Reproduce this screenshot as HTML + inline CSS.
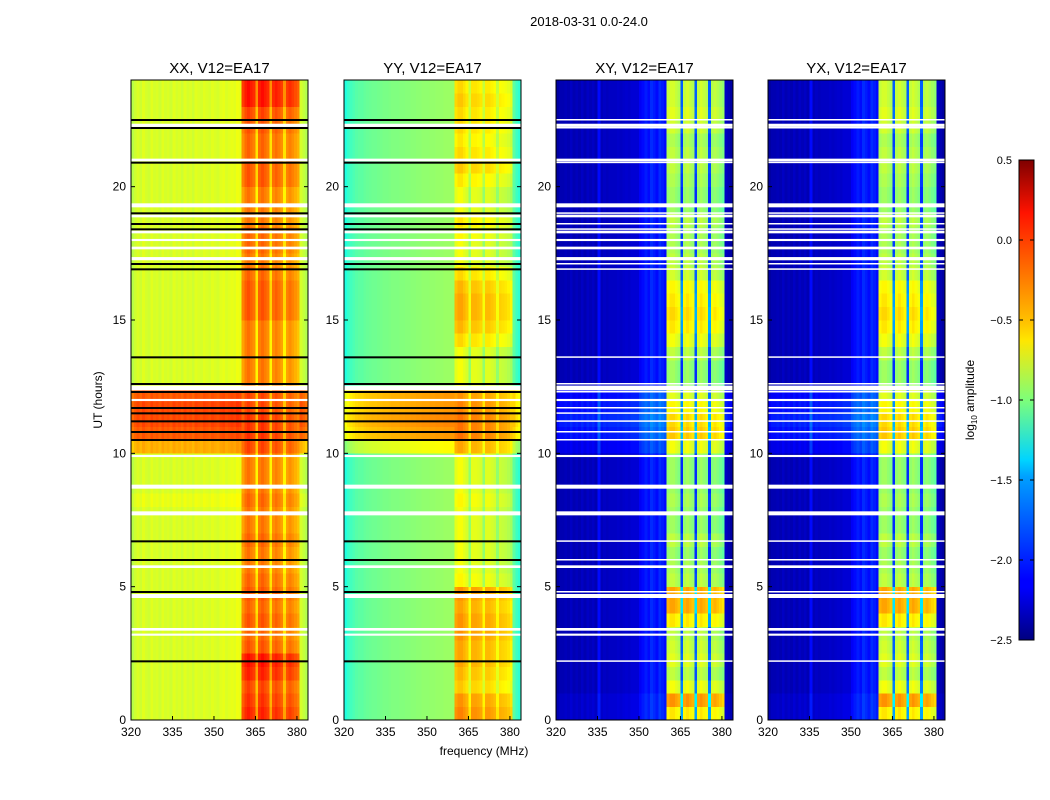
<!DOCTYPE html>
<html><head><meta charset="utf-8"><style>
body{margin:0;background:#fff;font-family:"Liberation Sans",sans-serif;}
#wrap{position:relative;width:1050px;height:800px;background:#fff;overflow:hidden}
</style></head><body>
<div id="wrap">
<svg id="fig" width="1050" height="800" xmlns="http://www.w3.org/2000/svg">
<defs><linearGradient id="jet" x1="0" y1="1" x2="0" y2="0">
<stop offset="0" stop-color="#00007f"/><stop offset="0.11" stop-color="#0000ff"/><stop offset="0.125" stop-color="#0000ff"/><stop offset="0.34" stop-color="#00a0ff"/><stop offset="0.375" stop-color="#00d4ff"/><stop offset="0.5" stop-color="#7dff7a"/><stop offset="0.625" stop-color="#ffe600"/><stop offset="0.66" stop-color="#ffc400"/><stop offset="0.89" stop-color="#ff1300"/><stop offset="1" stop-color="#7f0000"/>
</linearGradient></defs>
<text x="589" y="26" font-size="13" text-anchor="middle">2018-03-31 0.0-24.0</text>
<text x="484" y="755" font-size="12" text-anchor="middle">frequency (MHz)</text>
<text transform="translate(102,400) rotate(-90)" font-size="12" text-anchor="middle">UT (hours)</text>
<g id="panels"></g>
<rect x="1019" y="160" width="15" height="480" fill="url(#jet)" stroke="#000" stroke-width="1"/>
<g id="cbticks"></g>
<text transform="translate(974,400) rotate(-90)" font-size="12" text-anchor="middle">log<tspan font-size="8" dy="3">10</tspan><tspan dy="-3"> amplitude</tspan></text>
</svg>
</div>
<script>
// ---- data ----
const freqs = [320,321,322,323,324,325,326,327,328,329,330,331,332,333,334,335,336,337,338,339,340,341,342,343,344,345,346,347,348,349,350,351,352,353,354,355,356,357,358,359,360,361,362,363,364,365,366,367,368,369,370,371,372,373,374,375,376,377,378,379,380,381,382,383];
const specXX = [-0.83,-0.77,-0.73,-0.77,-0.71,-0.75,-0.77,-0.71,-0.75,-0.73,-0.77,-0.71,-0.75,-0.73,-0.77,-0.71,-0.75,-0.73,-0.77,-0.71,-0.75,-0.73,-0.77,-0.71,-0.73,-0.75,-0.71,-0.73,-0.75,-0.71,-0.73,-0.75,-0.71,-0.69,-0.73,-0.71,-0.69,-0.71,-0.67,-0.69,-0.35,-0.25,-0.2,-0.25,-0.3,-0.6,-0.25,-0.2,-0.25,-0.3,-0.6,-0.3,-0.25,-0.3,-0.35,-0.6,-0.35,-0.3,-0.35,-0.4,-0.45,-0.75,-0.8,-0.85];
const specYY = [-1.28,-1.22,-1.18,-1.15,-1.12,-1.1,-1.1,-1.08,-1.07,-1.06,-1.05,-1.05,-1.04,-1.03,-1.02,-1.02,-1.01,-1.0,-1.0,-1.0,-0.99,-0.99,-0.98,-0.98,-0.97,-0.97,-0.96,-0.96,-0.95,-0.95,-0.95,-0.94,-0.94,-0.93,-0.93,-0.93,-0.92,-0.92,-0.92,-0.92,-0.7,-0.65,-0.65,-0.7,-0.75,-0.95,-0.7,-0.7,-0.72,-0.75,-0.95,-0.72,-0.72,-0.75,-0.78,-0.95,-0.78,-0.8,-0.82,-0.85,-0.9,-1.1,-1.2,-1.25];
const specXY = [-2.4,-2.35,-2.35,-2.33,-2.35,-2.3,-2.35,-2.32,-2.35,-2.3,-2.35,-2.3,-2.33,-2.3,-2.35,-2.1,-2.33,-2.3,-2.32,-2.3,-2.3,-2.3,-2.28,-2.3,-2.28,-2.27,-2.28,-2.25,-2.25,-2.25,-2.15,-2.1,-2.05,-2.1,-2.0,-2.05,-2.1,-2.0,-2.05,-2.1,-0.95,-0.9,-0.9,-0.95,-1.0,-2.0,-0.95,-0.9,-0.95,-1.0,-2.0,-0.95,-0.9,-0.95,-1.0,-2.0,-1.0,-0.95,-1.0,-1.05,-1.1,-2.3,-2.35,-2.4];
const specYX = [-2.4,-2.35,-2.35,-2.33,-2.35,-2.3,-2.35,-2.32,-2.35,-2.3,-2.35,-2.3,-2.33,-2.3,-2.35,-2.1,-2.33,-2.3,-2.32,-2.3,-2.3,-2.3,-2.28,-2.3,-2.28,-2.27,-2.28,-2.25,-2.25,-2.25,-2.15,-2.1,-2.05,-2.1,-2.0,-2.05,-2.1,-2.0,-2.05,-2.1,-0.95,-0.9,-0.9,-0.95,-1.0,-2.0,-0.95,-0.9,-0.95,-1.0,-2.0,-0.95,-0.9,-0.95,-1.0,-2.0,-1.0,-0.95,-1.0,-1.05,-1.1,-2.3,-2.35,-2.4];
// time offsets per 0.5 hour row (0..24h): low band (<360 MHz) and high band (360-380 MHz)
const lowXX  = [0,0,0,0,0,0,0,0,0,0,0,0,0,0,0,0,0.05,0,0,0,0.35,0.6,0.65,0.65,0.6,0,0,0,0,0,0,0,0,0,0,0,0,0,0,0,0,0,0,0,0,0,0,0];
const highXX = [0.25,0.2,0.15,0.25,0.3,0.1,0.05,0.1,0.05,0.1,0.05,0,0,0.05,0,0,0.05,0,0,0,0.15,0.2,0.2,0.15,0.15,0,0,0,0,0,0.1,0.1,0.1,0.05,0,0.05,0.05,0,0,0,0.1,0.1,0.05,0.05,0.1,0.15,0.3,0.3];
const lowYY  = [0,0,0,0,0,0,0,0,0,0,0,0,0,0,0,0,0,0,0,0,0.3,0.6,0.65,0.6,0.6,0,0,0,0,0,0,0,0,0,0,0,0,0,0,0,0,0,0,0,0,0,0,0];
const highYY = [0.4,0.35,0.2,0.25,0.3,0.3,0.35,0.35,0.3,0.35,0.05,0,0,0,0,0,0.05,0,0,0,0.3,0.45,0.45,0.4,0.35,0,0,0,0.15,0.25,0.3,0.3,0.25,0.15,0,0,0.05,0.1,0,0,0.1,0.2,0.15,0.1,0.15,0.15,0.2,0.15];
const lowXY  = [0.05,0.05,0,0,0,0,0,0,0,0,0,0,0,0,0,0,0,0,0,0,0.15,0.25,0.3,0.25,0.2,0,0,0,0,0,0,0,0,0,0,0,0,0,0,0,0,0,0,0,0,0,0,0];
const highXY = [0.35,0.6,0.25,0.1,0.2,0.15,0.1,0.35,0.55,0.55,0.1,0.05,0,0.1,0,0,0.05,0,0,0,0.25,0.45,0.4,0.3,0.2,0,0,0.1,0.25,0.35,0.4,0.35,0.3,0.15,0.1,0.05,0.05,0.1,0,0,0.05,0.1,0.1,0.05,0.15,0.2,0.15,0.15];
const lowYX  = [0.05,0.05,0,0,0,0,0,0,0,0,0,0,0,0,0,0,0,0,0,0,0.15,0.25,0.3,0.25,0.2,0,0,0,0,0,0,0,0,0,0,0,0,0,0,0,0,0,0,0,0,0,0,0];
const highYX = [0.35,0.6,0.25,0.1,0.2,0.15,0.1,0.35,0.55,0.55,0.1,0.05,0,0.1,0,0,0.05,0,0,0,0.25,0.45,0.4,0.3,0.2,0,0,0.1,0.25,0.35,0.4,0.35,0.3,0.15,0.1,0.05,0.05,0.1,0,0,0.05,0.1,0.1,0.05,0.15,0.2,0.15,0.15];
// flagged times (hours) and widths (hours)
const whiteFlags = [22.3,21.0,19.3,18.9,18.3,18.0,17.7,17.3,12.45,12.0,9.9,8.75,7.75,5.75,4.65,3.4,3.2];
const whiteWidth = [0.12,0.1,0.15,0.1,0.1,0.08,0.1,0.12,0.18,0.08,0.08,0.15,0.15,0.1,0.15,0.1,0.08];
const blackFlags = [22.5,22.2,20.9,19.0,18.6,18.4,17.1,16.9,13.6,12.6,12.3,11.7,11.5,11.2,10.8,10.5,6.7,6.0,4.8,2.2];
const panelTitles = ["XX, V12=EA17","YY, V12=EA17","XY, V12=EA17","YX, V12=EA17"];
const xTicks = [320,335,350,365,380];
const yTicks = [0,5,10,15,20];
const cbTicks = [0.5,0.0,-0.5,-1.0,-1.5,-2.0,-2.5];
// ---- drawing ----
const NS="http://www.w3.org/2000/svg";
const lefts=[131,344,556,768], W=177, TOP=80, BOT=720;
const vmin=-2.5,vmax=0.5;
const xs=(l,f)=>l+(f-320)/64*W;
const ys=h=>BOT-(h/24)*(BOT-TOP);
function jet(v){let t=(v-vmin)/(vmax-vmin);t=Math.max(0,Math.min(1,t));
 const c=x=>Math.max(0,Math.min(1,1.5-Math.abs(4*t-x)));
 return `rgb(${Math.round(c(3)*255)},${Math.round(c(2)*255)},${Math.round(c(1)*255)})`;}
function mk(tag,attrs,parent){const e=document.createElementNS(NS,tag);for(const k in attrs)e.setAttribute(k,attrs[k]);parent.appendChild(e);return e;}
const specs=[specXX,specYY,specXY,specYX], lows=[lowXX,lowYY,lowXY,lowYX], highs=[highXX,highYY,highXY,highYX];
const G=document.getElementById('panels');
for(let p=0;p<4;p++){
 const l=lefts[p];
 const g=mk('g',{},G);
 
 
 const tt=mk('text',{x:l+W/2,y:73,'font-size':15,'text-anchor':'middle'},g);
 tt.textContent=panelTitles[p];
 
 
 const hm=mk('g',{'shape-rendering':'crispEdges'},g);
 
 
 for(let r=0;r<lows[p].length;r++){
  const y0=ys((r+1)*0.5), y1=ys(r*0.5);
  for(let c=0;c<freqs.length;c++){
   const x0=xs(l,freqs[c]), x1=xs(l,freqs[c]+1);
   const off=freqs[c]>=360&&freqs[c]<=380?highs[p][r]:lows[p][r];
   const cell=mk('rect',{x:x0,y:y0,width:x1-x0+0.4,height:y1-y0+0.4,fill:jet(specs[p][c]+off)},hm);
   
   
  }
 }
 for(let i=0;i<blackFlags.length;i++){
  const b=mk('rect',{x:l,y:ys(blackFlags[i])-1,width:W,height:p<2?2:1.5,fill:p<2?'#000':'#fff'},g);
  
  
 }
 for(let i=0;i<whiteFlags.length;i++){
  const y=ys(whiteFlags[i]+whiteWidth[i]/2);
  const w=mk('rect',{x:l,y:y,width:W,height:Math.max(1.5,whiteWidth[i]/24*640),fill:'#fff'},g);
  
  
 }
 const fr=mk('rect',{x:l,y:TOP,width:W,height:BOT-TOP,fill:'none',stroke:'#000','stroke-width':1},g);
 
 
 for(const t of xTicks){
  const x=xs(l,t);
  mk('line',{x1:x,y1:BOT,x2:x,y2:BOT-4,stroke:'#000'},g);
  const tx=mk('text',{x:x,y:BOT+16,'font-size':12,'text-anchor':'middle'},g);
  tx.textContent=t;
  
  
 }
 for(const t of yTicks){
  const y=ys(t);
  mk('line',{x1:l,y1:y,x2:l+4,y2:y,stroke:'#000'},g);
  mk('line',{x1:l+W,y1:y,x2:l+W-4,y2:y,stroke:'#000'},g);
  const ty=mk('text',{x:l-5,y:y+4,'font-size':12,'text-anchor':'end'},g);
  ty.textContent=t;
  
  
 }
}
const CB=document.getElementById('cbticks');
for(const t of cbTicks){
 const y=160+(0.5-t)/3*480;
 mk('line',{x1:1019,y1:y,x2:1023,y2:y,stroke:'#000'},CB);
 mk('line',{x1:1034,y1:y,x2:1030,y2:y,stroke:'#000'},CB);
 const e=mk('text',{x:1012,y:y+4,'font-size':11,'text-anchor':'end'},CB);
 e.textContent=t.toFixed(1).replace('-','\u2212');
 
 
}
</script>
</body></html>
